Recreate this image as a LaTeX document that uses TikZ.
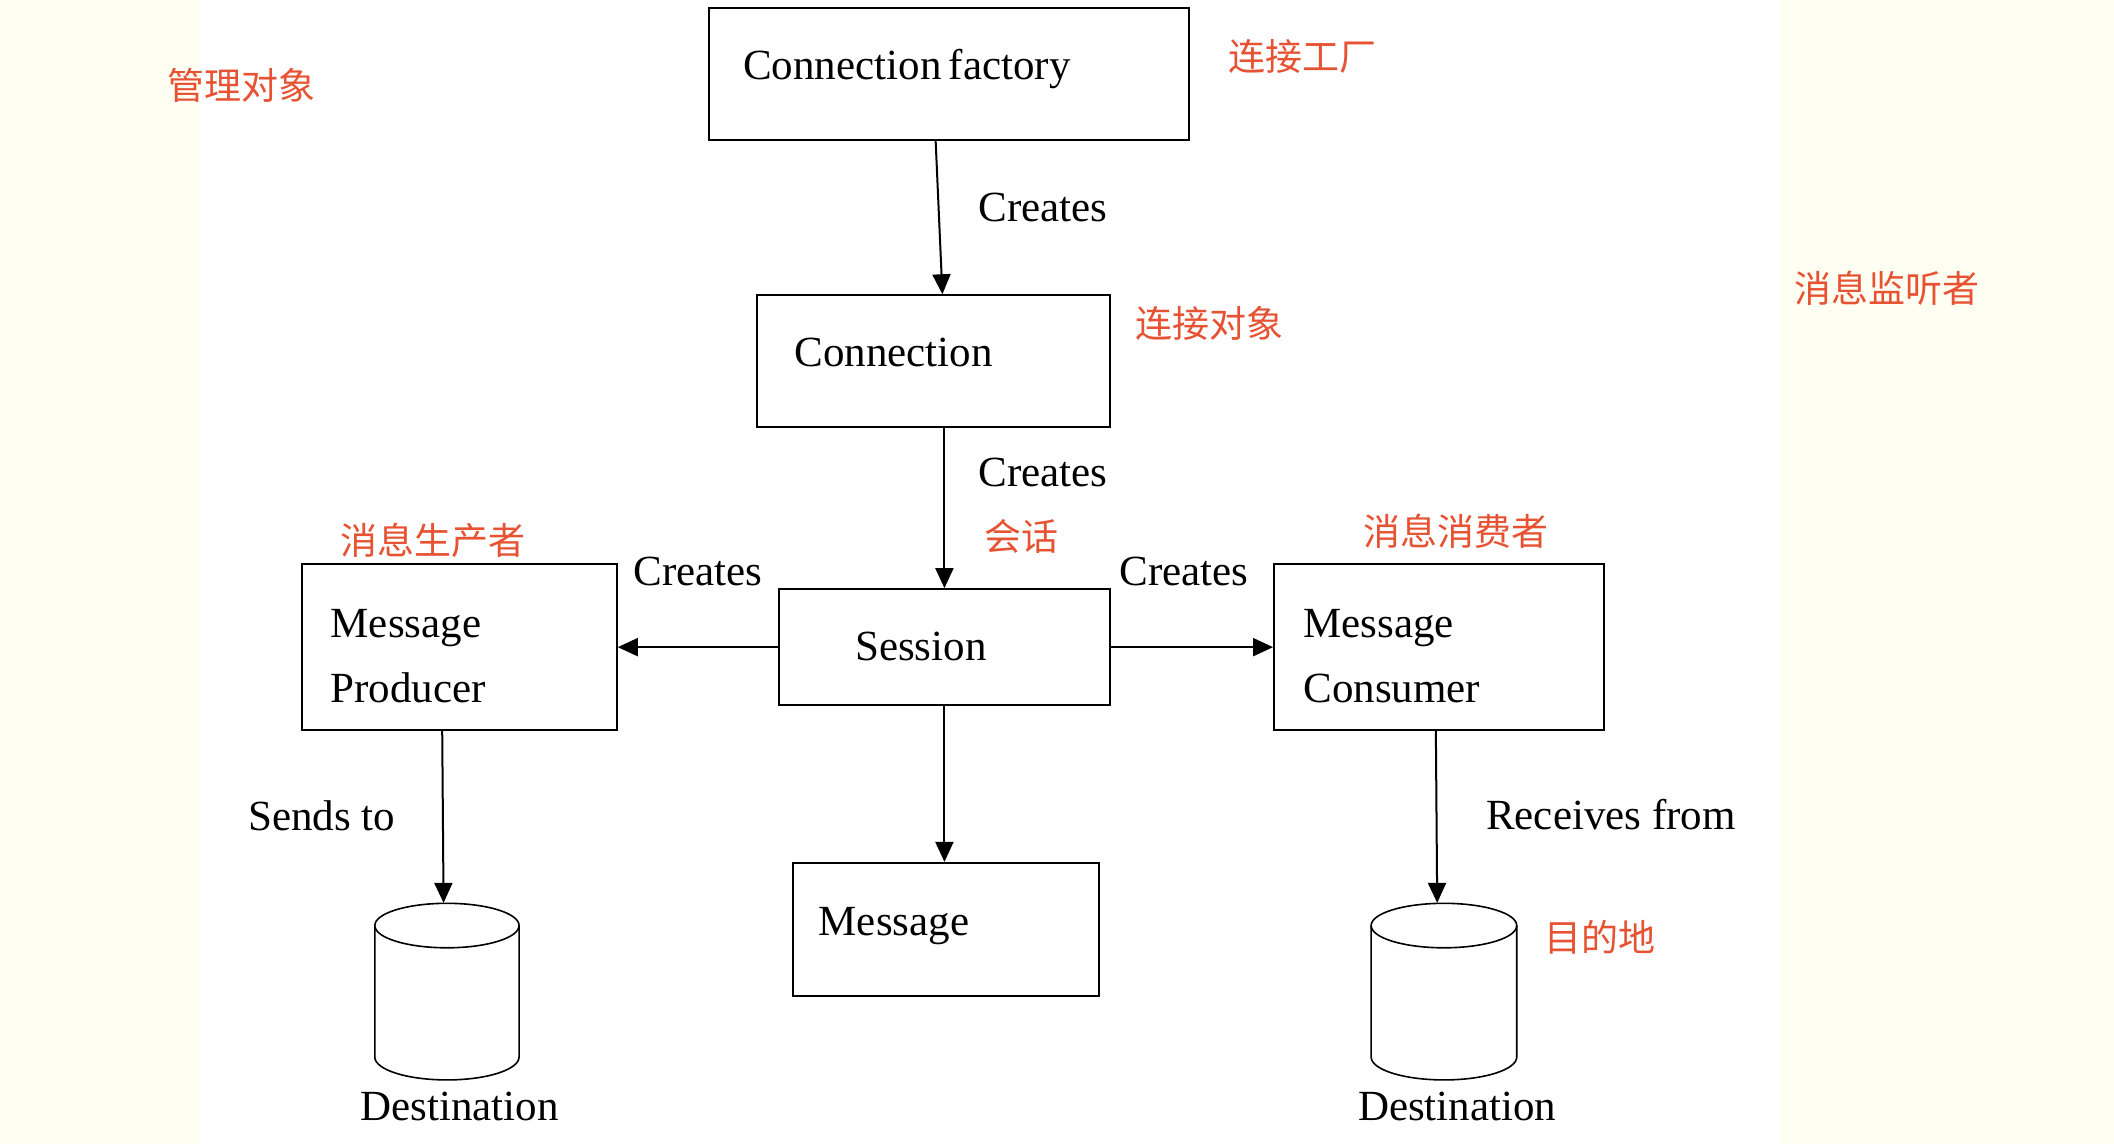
\documentclass[tikz,border=0pt]{standalone}
\usepackage{fontspec}
\setmainfont{Liberation Serif}
\newfontfamily\cjk{Noto Sans CJK SC}
\usetikzlibrary{arrows.meta,fit}
\definecolor{cream}{RGB}{255,254,243}
\definecolor{labred}{RGB}{230,82,50}
\def\u{0.6742pt}
\tikzset{
  box/.style={draw=black,line width=1pt,inner sep=0pt,fill=none},
  lbl/.style={anchor=base west,inner sep=0pt,font=\fontsize{21.5}{26}\selectfont},
  cn/.style={anchor=west,inner sep=0pt,text=labred,font=\cjk\fontsize{18.5}{22}\selectfont},
  arr/.style={draw=black,line width=1pt,-{Triangle[length=10pt,width=9pt]}},
  cyl/.style={draw=black,line width=0.8pt},
  hold/.style={draw=none,inner sep=0pt}
}
\begin{document}
\begin{tikzpicture}[x=0.6742pt,y=-0.6742pt]
\useasboundingbox (0,0) rectangle (1568,848.4);
\fill[cream] (0,0) rectangle (1568,848.4);
\fill[white] (148,0) rectangle (1320,848.4);

% boxes
\node[box,fit={(526,6) (882,104)}] (cf) {};
\node[box,fit={(561.5,219) (823,316.5)}] (conn) {};
\node[box,fit={(578,437) (823,523)}] (sess) {};
\node[box,fit={(224,418.5) (457.5,541.5)}] (prod) {};
\node[box,fit={(945,418.5) (1190,541.5)}] (cons) {};
\node[box,fit={(588,640) (815,739)}] (msg) {};

% cylinders
\node[hold,fit={(278,670) (385,801)}] (d1) {};
\node[hold,fit={(1017,670) (1125,801)}] (d2) {};
\draw[cyl] (278,686.5) -- (278,784) arc[start angle=180,end angle=0,x radius=53.5,y radius=17] -- (385,686.5);
\draw[cyl] (331.5,686.5) ellipse[x radius=53.5,y radius=16.5];
\draw[cyl] (1017,686.5) -- (1017,784) arc[start angle=180,end angle=0,x radius=54,y radius=17] -- (1125,686.5);
\draw[cyl] (1071,686.5) ellipse[x radius=54,y radius=16.5];

% connectors
\draw[arr] ([xshift=-10*\u]cf.south) -- ([xshift=6.75*\u]conn.north);
\draw[arr] (sess.north |- conn.south) -- (sess.north);
\draw[arr] (sess.south) -- (sess.south |- msg.north);
\draw[arr] (sess.west) -- (prod.east |- sess.west);
\draw[arr] (sess.east) -- (cons.west |- sess.east);
\draw[arr] ([xshift=-12.75*\u]prod.south) -- ([xshift=-2.5*\u]d1.north);
\draw[arr] ([xshift=-2.5*\u]cons.south) -- ([xshift=-5*\u]d2.north);

% texts
\node[lbl] (tcf) at (551,59) {Connection\hspace{0.17em}factory};
\node[lbl] (tc1) at (725.5,164.6) {Creates};
\node[lbl] (tconn) at (589,272) {Connection};
\node[lbl] (tc2) at (725.5,361) {Creates};
\node[lbl] (tsess) at (634,489.6) {Session};
\node[lbl] (tp1) at (245,472.5) {Message};
\node[lbl] (tp2) at (245,521) {Producer};
\node[lbl] (tc3) at (469.5,434) {Creates};
\node[lbl] (tc4) at (830,434) {Creates};
\node[lbl] (tk1) at (966.5,472.5) {Message};
\node[lbl] (tk2) at (966.5,521) {Consumer};
\node[lbl] (tmsg) at (607,694) {Message};
\node[lbl] (tsend) at (184,616) {Sends to};
\node[lbl] (trecv) at (1102,615.6) {Receives from};
\node[lbl] (tdest1) at (267,831) {Destination};
\node[lbl] (tdest2) at (1007,831) {Destination};

% red annotations
\node[cn] (r1) at (124,63) {管理对象};
\node[cn] (r2) at (911,42) {连接工厂};
\node[cn] (r3) at (842,240) {连接对象};
\node[cn] (r4) at (252,401) {消息生产者};
\node[cn] (r5) at (1011,394) {消息消费者};
\node[cn] (r6) at (730,398) {会话};
\node[cn] (r7) at (1145,695) {目的地};
\node[cn] (r8) at (1331,214) {消息监听者};
\end{tikzpicture}
\end{document}
